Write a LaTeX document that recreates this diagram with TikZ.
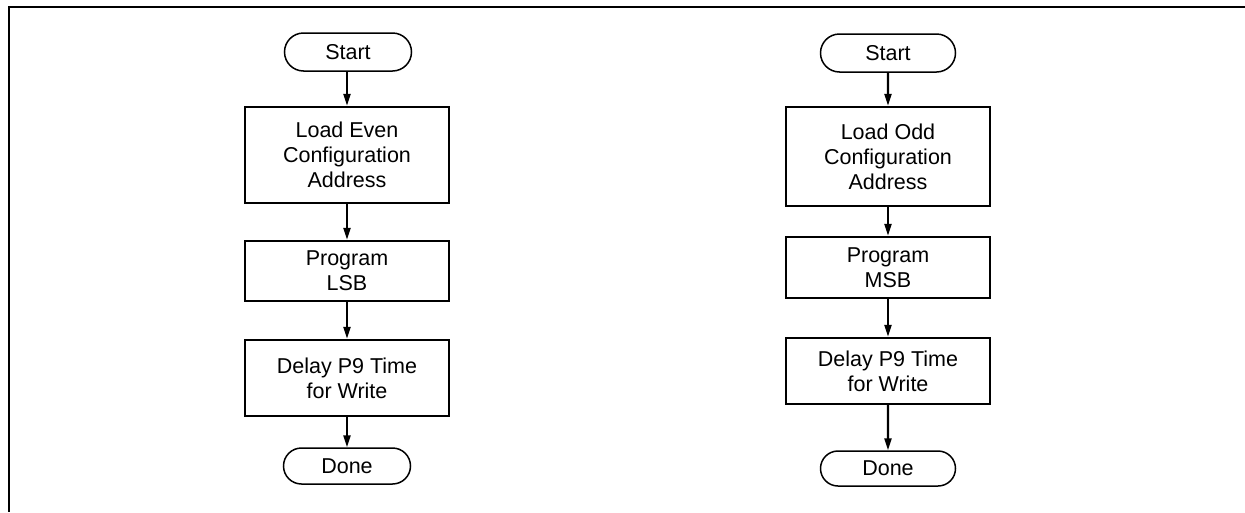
\documentclass[tikz,border=0pt]{standalone}
\usepackage{fontspec}
\setmainfont{Liberation Sans}
\usetikzlibrary{arrows.meta,shapes.misc}
\begin{document}
\begin{tikzpicture}[x=1pt,y=-1pt,
  every node/.style={font=\fontsize{21.5}{25}\selectfont, inner sep=0pt, align=center},
  procbox/.style={draw, line width=2.2pt, minimum width=204pt},
  termbox/.style={draw, rounded rectangle, line width=1.5pt},
  flow/.style={line width=2.2pt, -{Triangle[length=12pt,width=7pt]}}
]
\useasboundingbox (0,0) rectangle (1245,512);
\draw[line width=2.5pt] (1245,7) -- (9,7) -- (9,512);

% left column
\node[termbox, minimum width=127pt, minimum height=38pt] (startL) at (348,52) {Start};
\node[procbox, minimum height=96pt] (loadL) at (347,155) {Load Even\\Configuration\\Address};
\node[procbox, minimum height=60pt] (progL) at (347,271) {Program\\LSB};
\node[procbox, minimum height=76pt] (delayL) at (347,378) {Delay P9 Time\\for Write};
\node[termbox, minimum width=127pt, minimum height=36pt] (doneL) at (347,466) {Done};
\draw[flow] (startL.south -| loadL.north) -- (loadL.north);
\draw[flow] (loadL) -- (progL);
\draw[flow] (progL) -- (delayL);
\draw[flow] (delayL) -- (doneL);

% right column
\node[termbox, minimum width=135pt, minimum height=38pt] (startR) at (888,53) {Start};
\node[procbox, minimum height=99pt] (loadR) at (888,156.5) {Load Odd\\Configuration\\Address};
\node[procbox, minimum height=61pt] (progR) at (888,267.5) {Program\\MSB};
\node[procbox, minimum height=66pt] (delayR) at (888,371) {Delay P9 Time\\for Write};
\node[termbox, minimum width=135pt, minimum height=35pt] (doneR) at (888,468.5) {Done};
\draw[flow] (startR) -- (loadR);
\draw[flow] (loadR) -- (progR);
\draw[flow] (progR) -- (delayR);
\draw[flow] (delayR) -- (doneR);
\end{tikzpicture}
\end{document}
